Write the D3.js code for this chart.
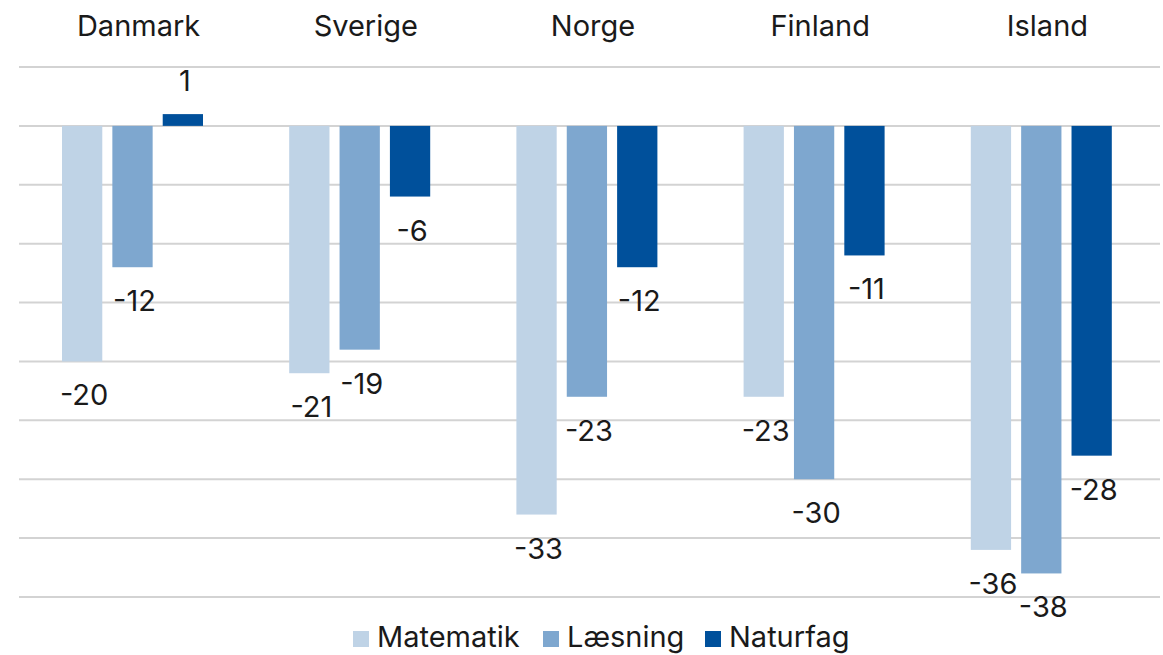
<!DOCTYPE html>
<html>
<head>
<meta charset="utf-8">
<style>
  body { margin: 0; background: #fff; }
  svg text { font-family: Inter, "Noto Sans", sans-serif; fill: #1a1a1a; }
</style>
<script src="https://d3js.org/d3.v7.min.js"></script>
</head>
<body>
<svg width="1163" height="655"></svg>
<script>
var countries = ["Danmark", "Sverige", "Norge", "Finland", "Island"];
var subjects = ["Matematik", "Læsning", "Naturfag"];
var matematik = [-20, -21, -33, -23, -36];
var laesning = [-12, -19, -23, -30, -38];
var naturfag = [1, -6, -12, -11, -28];
var yTicks = [5, 0, -5, -10, -15, -20, -25, -30, -35, -40];

var colors = ["#bfd3e6", "#7ea7cf", "#00509b"];
var series = [matematik, laesning, naturfag];

var svg = d3.select("svg");

var x0 = d3.scaleBand().domain(countries).range([19, 1155]).paddingInner(0).paddingOuter(0);
var x1 = d3.scaleBand().domain(subjects).range([43, 184]).paddingInner(0.2);
var y = d3.scaleLinear().domain([-40, 5]).range([597, 67]);

// gridlines
svg.append("g").selectAll("line")
  .data(yTicks).enter().append("line")
  .attr("x1", 19).attr("x2", 1160)
  .attr("y1", function(d) { return y(d); })
  .attr("y2", function(d) { return y(d); })
  .attr("stroke", "#d3d3d3").attr("stroke-width", 2);

// country titles
svg.append("g").selectAll("text")
  .data(countries).enter().append("text")
  .attr("x", function(d) { return x0(d) + x0.bandwidth() / 2 + 6; })
  .attr("y", 36)
  .attr("text-anchor", "middle")
  .style("font-size", "29px")
  .text(function(d) { return d; });

var groups = svg.append("g").selectAll("g")
  .data(countries).enter().append("g")
  .attr("transform", function(d) { return "translate(" + x0(d) + ",0)"; });

groups.selectAll("rect")
  .data(function(d, i) { return subjects.map(function(s, j) { return { s: s, j: j, v: series[j][i] }; }); })
  .enter().append("rect")
  .attr("x", function(d) { return x1(d.s); })
  .attr("width", x1.bandwidth())
  .attr("y", function(d) { return y(Math.max(0, d.v)); })
  .attr("height", function(d) { return Math.abs(y(d.v) - y(0)); })
  .attr("fill", function(d) { return colors[d.j]; });

groups.selectAll("text")
  .data(function(d, i) { return subjects.map(function(s, j) { return { s: s, j: j, v: series[j][i] }; }); })
  .enter().append("text")
  .attr("x", function(d) { return x1(d.s) + x1.bandwidth() / 2 + 2; })
  .attr("y", function(d) { return d.v < 0 ? y(d.v) + 44 : y(d.v) - 23; })
  .attr("text-anchor", "middle")
  .style("font-size", "29px")
  .text(function(d) { return d.v; });

// legend
var legendX = [353, 543, 705];
var legend = svg.append("g").selectAll("g")
  .data(subjects).enter().append("g")
  .attr("transform", function(d, i) { return "translate(" + legendX[i] + ",0)"; });
legend.append("rect")
  .attr("x", 0).attr("y", 631).attr("width", 16).attr("height", 16)
  .attr("fill", function(d, i) { return colors[i]; });
legend.append("text")
  .attr("x", 24).attr("y", 647)
  .style("font-size", "29px")
  .text(function(d) { return d; });
</script>
</body>
</html>
